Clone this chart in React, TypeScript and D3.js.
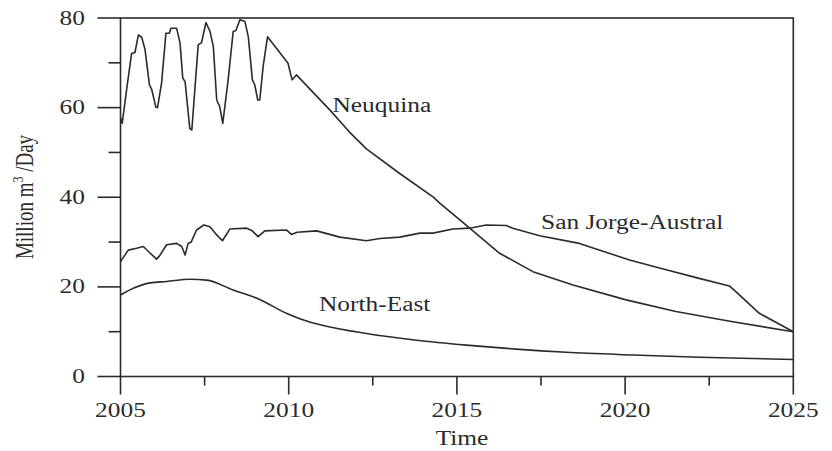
import { useRef, useEffect } from 'react';
import * as d3 from 'd3';

// [year, million m3/day]
const neuquina: [number, number][] = [
  [2005.0, 57.8], [2005.05, 56.5], [2005.2, 65], [2005.33, 72.1], [2005.43, 72.3],
  [2005.53, 76.2], [2005.63, 75.7], [2005.73, 72.9], [2005.86, 65.1], [2005.93, 64],
  [2006.05, 60.1], [2006.1, 60], [2006.22, 65.4], [2006.35, 76.6], [2006.45, 76.6],
  [2006.5, 77.7], [2006.67, 77.7], [2006.77, 74.4], [2006.85, 66.6], [2006.92, 65.8],
  [2007.06, 55.3], [2007.12, 55], [2007.22, 65], [2007.31, 74], [2007.41, 74.5],
  [2007.54, 79], [2007.66, 77], [2007.76, 73.6], [2007.86, 61.7], [2007.95, 60.2],
  [2008.04, 56.5], [2008.2, 66.2], [2008.35, 77], [2008.43, 77.2], [2008.55, 79.6],
  [2008.7, 79.2], [2008.8, 75.8], [2008.92, 66.2], [2008.99, 65.1], [2009.08, 61.7],
  [2009.14, 61.7], [2009.24, 69.2], [2009.37, 75.8], [2009.98, 69.9], [2010.1, 66.2],
  [2010.23, 67.3], [2011.22, 59.5], [2011.8, 54.6], [2012.31, 50.8], [2013.3, 45.3],
  [2014.29, 40.1], [2014.49, 38.7], [2015.38, 33.1], [2016.27, 27.5], [2017.26, 23.4],
  [2018.45, 20.4], [2020.03, 17.1], [2021.51, 14.5], [2023.2, 12.2], [2025, 10.0],
];

const sanJorge: [number, number][] = [
  [2005.0, 25.6], [2005.05, 26.2], [2005.23, 28.2], [2005.48, 28.6], [2005.68, 29.0],
  [2005.83, 27.9], [2006.07, 26.2], [2006.15, 26.8], [2006.37, 29.4], [2006.67, 29.7],
  [2006.82, 29.0], [2006.92, 27.1], [2007.01, 29.7], [2007.1, 30.0], [2007.26, 32.7],
  [2007.48, 33.8], [2007.66, 33.4], [2007.86, 31.6], [2008.03, 30.3], [2008.25, 32.9],
  [2008.75, 33.1], [2008.9, 32.6], [2009.09, 31.2], [2009.29, 32.5], [2009.93, 32.7],
  [2010.08, 31.7], [2010.25, 32.2], [2010.83, 32.5], [2011.52, 31.1], [2012.31, 30.3],
  [2012.71, 30.8], [2013.3, 31.1], [2013.9, 32.0], [2014.29, 32.0], [2014.88, 32.9],
  [2015.38, 33.1], [2015.87, 33.8], [2016.47, 33.7], [2016.66, 33.1], [2017.46, 31.4],
  [2018.64, 29.7], [2020.13, 26.0], [2021.22, 23.8], [2022.2, 21.9], [2023.1, 20.2],
  [2023.3, 18.9], [2023.99, 14.1], [2025, 10.0],
];

const northEast: [number, number][] = [
  [2005, 18.2], [2005.38, 19.7], [2005.88, 20.9], [2006.37, 21.2], [2007.06, 21.7],
  [2007.56, 21.5], [2008.35, 19.3], [2009.14, 17.2], [2009.93, 14.1], [2010.33, 12.9],
  [2011.12, 11.2], [2012.31, 9.6], [2013.8, 8.1], [2015.28, 7.0], [2016.76, 6.1],
  [2018.25, 5.4], [2020.23, 4.8], [2022.2, 4.3], [2025, 3.8],
];

const yMajor = [0, 20, 40, 60, 80];
const yMinor = [10, 30, 50, 70];
const xMajor = [2005, 2010, 2015, 2020, 2025];
const xMinor = [2007.5, 2012.5, 2017.5, 2022.5];

const labels = [
  { text: 'Neuquina', x: 2011.3, y: 59 },
  { text: 'San Jorge-Austral', x: 2017.5, y: 33 },
  { text: 'North-East', x: 2010.9, y: 14.6 },
];

function App() {
  const svgRef = useRef<SVGSVGElement>(null);
  const width = 832;
  const height = 451;

  useEffect(() => {
    const svg = d3.select(svgRef.current);
    svg.selectAll('*').remove();

    const ink = '#2b2b2b';
    const font = '"Liberation Serif", "Times New Roman", serif';
    const stretch = 1.27; // the source raster is widened horizontally

    const x = d3.scaleLinear().domain([2005, 2025]).range([120.5, 793.3]);
    const y = d3.scaleLinear().domain([0, 80]).range([376.5, 18]);

    const text = (
      px: number,
      py: number,
      str: string,
      size: number,
      anchor: string
    ) =>
      svg
        .append('g')
        .attr('transform', `translate(${px},${py}) scale(${stretch},1)`)
        .append('text')
        .attr('text-anchor', anchor)
        .attr('font-family', font)
        .attr('font-size', size)
        .attr('fill', ink)
        .text(str);

    // frame
    svg
      .append('rect')
      .attr('x', x(2005))
      .attr('y', y(80))
      .attr('width', x(2025) - x(2005))
      .attr('height', y(0) - y(80))
      .attr('fill', 'none')
      .attr('stroke', ink)
      .attr('stroke-width', 1.6);

    // y ticks
    svg
      .selectAll('line.ymaj')
      .data(yMajor)
      .join('line')
      .attr('x1', x(2005) - 23)
      .attr('x2', x(2005))
      .attr('y1', (d) => y(d))
      .attr('y2', (d) => y(d))
      .attr('stroke', ink)
      .attr('stroke-width', 1.6);
    svg
      .selectAll('line.ymin')
      .data(yMinor)
      .join('line')
      .attr('x1', x(2005) - 12)
      .attr('x2', x(2005))
      .attr('y1', (d) => y(d))
      .attr('y2', (d) => y(d))
      .attr('stroke', ink)
      .attr('stroke-width', 1.6);

    // x ticks
    svg
      .selectAll('line.xmaj')
      .data(xMajor)
      .join('line')
      .attr('x1', (d) => x(d))
      .attr('x2', (d) => x(d))
      .attr('y1', y(0))
      .attr('y2', y(0) + 18)
      .attr('stroke', ink)
      .attr('stroke-width', 1.6);
    svg
      .selectAll('line.xmin')
      .data(xMinor)
      .join('line')
      .attr('x1', (d) => x(d))
      .attr('x2', (d) => x(d))
      .attr('y1', y(0))
      .attr('y2', y(0) + 9)
      .attr('stroke', ink)
      .attr('stroke-width', 1.6);

    yMajor.forEach((d) => text(85, y(d) + 6.5, String(d), 20, 'end'));
    xMajor.forEach((d) => text(x(d), 417, String(d), 20, 'middle'));
    text(462, 445, 'Time', 20, 'middle');

    // y axis title
    const yt = svg
      .append('g')
      .attr('transform', `translate(33,197) scale(${stretch},1) rotate(-90)`)
      .append('text')
      .attr('text-anchor', 'middle')
      .attr('font-family', font)
      .attr('font-size', 19)
      .attr('fill', ink);
    yt.append('tspan').text('Million m');
    yt.append('tspan').attr('dy', -8).attr('font-size', 12).text('3');
    yt.append('tspan').attr('dy', 8).text(' /Day');

    const line = d3
      .line<[number, number]>()
      .x((d) => x(d[0]))
      .y((d) => y(d[1]));

    [neuquina, sanJorge].forEach((series) => {
      svg
        .append('path')
        .attr('d', line(series))
        .attr('fill', 'none')
        .attr('stroke', ink)
        .attr('stroke-width', 1.6)
        .attr('stroke-linejoin', 'round');
    });
    svg
      .append('path')
      .attr('d', line.curve(d3.curveMonotoneX)(northEast))
      .attr('fill', 'none')
      .attr('stroke', ink)
      .attr('stroke-width', 1.6);

    labels.forEach((l) => text(x(l.x), y(l.y), l.text, 20, 'start'));
  }, []);

  return (
    <svg
      ref={svgRef}
      width={width}
      height={height}
      viewBox={`0 0 ${width} ${height}`}
      style={{ position: 'absolute', left: 0, top: 0, background: '#fff' }}
    ></svg>
  );
}

export default App;
